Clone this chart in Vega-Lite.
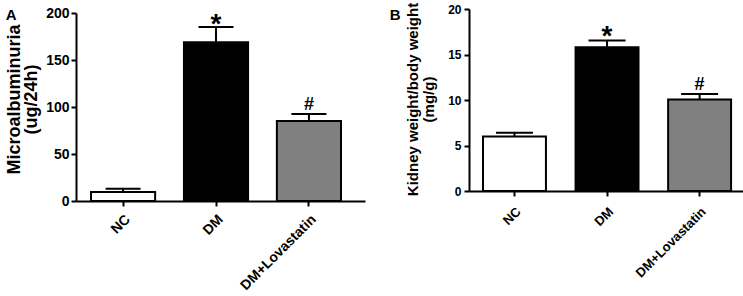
{
  "$schema": "https://vega.github.io/schema/vega-lite/v6.json",
  "padding": {"left": 5, "top": 2, "right": 0, "bottom": 0},
  "autosize": {"type": "pad"},
  "background": "white",
  "spacing": 24,
  "config": {
    "font": "Liberation Sans",
    "view": {"stroke": null},
    "axis": {
      "domainColor": "black",
      "domainWidth": 2,
      "tickColor": "black",
      "tickWidth": 2,
      "tickSize": 5,
      "labelFont": "Liberation Sans",
      "labelFontWeight": "bold",
      "labelFontSize": 13,
      "labelColor": "black",
      "titleFont": "Liberation Sans",
      "titleFontWeight": "bold",
      "titleColor": "black",
      "grid": false
    },
    "title": {"font": "Liberation Sans", "fontWeight": "bold", "color": "black"}
  },
  "datasets": {
    "a": [
      {"group": "NC", "value": 9.5, "err": 13, "label": ""},
      {"group": "DM", "value": 169, "err": 185, "label": "*"},
      {"group": "DM+Lovastatin", "value": 85, "err": 92.5, "label": "#"}
    ],
    "b": [
      {"group": "NC", "value": 6.0, "err": 6.4, "label": ""},
      {"group": "DM", "value": 15.8, "err": 16.55, "label": "*"},
      {"group": "DM+Lovastatin", "value": 10.05, "err": 10.65, "label": "#"}
    ]
  },
  "hconcat": [
    {
      "width": 289,
      "height": 188,
      "data": {"name": "a"},
      "title": {"text": "A", "anchor": "start", "frame": "bounds", "fontSize": 15, "offset": -17},
      "encoding": {
        "x": {
          "field": "group", "type": "nominal", "sort": ["NC", "DM", "DM+Lovastatin"],
          "scale": {"paddingInner": 0.31, "paddingOuter": 0.21, "align": 0.385},
          "axis": {"title": null, "labelAngle": -45, "labelPadding": 6, "labelFontSize": 14}
        }
      },
      "layer": [
        {
          "mark": {"type": "bar", "stroke": "black", "strokeWidth": 2},
          "encoding": {
            "y": {
              "field": "value", "type": "quantitative",
              "scale": {"domain": [0, 200], "nice": false},
              "axis": {"values": [0, 50, 100, 150, 200], "title": ["Microalbuminuria", "(ug/24h)"], "titleFontSize": 18, "titleLineHeight": 17, "titlePadding": 5, "titleY": 86, "labelPadding": 2, "labelFontSize": 14}
            },
            "fill": {"field": "group", "type": "nominal", "scale": {"domain": ["NC", "DM", "DM+Lovastatin"], "range": ["white", "black", "#808080"]}, "legend": null}
          }
        },
        {
          "mark": {"type": "rule", "strokeWidth": 2, "color": "black"},
          "encoding": {"y": {"field": "value", "type": "quantitative"}, "y2": {"field": "err"}}
        },
        {
          "mark": {"type": "tick", "size": 35, "thickness": 2, "color": "black", "opacity": 1},
          "encoding": {"y": {"field": "err", "type": "quantitative"}}
        },
        {
          "transform": [{"filter": "datum.label === '*'"}],
          "mark": {"type": "text", "baseline": "alphabetic", "dy": 6, "fontSize": 28, "fontWeight": "bold", "color": "black"},
          "encoding": {"y": {"field": "err", "type": "quantitative"}, "text": {"field": "label"}}
        },
        {
          "transform": [{"filter": "datum.label === '#'"}],
          "mark": {"type": "text", "baseline": "alphabetic", "dy": -4, "fontSize": 18, "fontWeight": "bold", "color": "black"},
          "encoding": {"y": {"field": "err", "type": "quantitative"}, "text": {"field": "label"}}
        }
      ]
    },
    {
      "width": 274,
      "height": 178,
      "data": {"name": "b"},
      "title": {"text": "B", "anchor": "start", "frame": "bounds", "fontSize": 15, "offset": -21, "dx": -16},
      "encoding": {
        "x": {
          "field": "group", "type": "nominal", "sort": ["NC", "DM", "DM+Lovastatin"],
          "scale": {"paddingInner": 0.32, "paddingOuter": 0.14, "align": 0.54},
          "axis": {"title": null, "labelAngle": -45, "labelPadding": 9, "labelFontSize": 13}
        }
      },
      "layer": [
        {
          "mark": {"type": "bar", "stroke": "black", "strokeWidth": 2},
          "encoding": {
            "y": {
              "field": "value", "type": "quantitative",
              "scale": {"domain": [0, 20], "nice": false, "range": [178, -4]},
              "axis": {"values": [0, 5, 10, 15, 20], "title": ["Kidney weight/body weight", "(mg/g)"], "titleFontSize": 15, "titleLineHeight": 16, "titlePadding": 11, "titleY": 86, "labelPadding": 3, "labelFontSize": 12}
            },
            "fill": {"field": "group", "type": "nominal", "scale": {"domain": ["NC", "DM", "DM+Lovastatin"], "range": ["white", "black", "#808080"]}, "legend": null}
          }
        },
        {
          "mark": {"type": "rule", "strokeWidth": 2, "color": "black"},
          "encoding": {"y": {"field": "value", "type": "quantitative"}, "y2": {"field": "err"}}
        },
        {
          "mark": {"type": "tick", "size": 37, "thickness": 2, "color": "black", "opacity": 1},
          "encoding": {"y": {"field": "err", "type": "quantitative"}}
        },
        {
          "transform": [{"filter": "datum.label === '*'"}],
          "mark": {"type": "text", "baseline": "alphabetic", "dy": 5, "fontSize": 28, "fontWeight": "bold", "color": "black"},
          "encoding": {"y": {"field": "err", "type": "quantitative"}, "text": {"field": "label"}}
        },
        {
          "transform": [{"filter": "datum.label === '#'"}],
          "mark": {"type": "text", "baseline": "alphabetic", "dy": -4, "fontSize": 18, "fontWeight": "bold", "color": "black"},
          "encoding": {"y": {"field": "err", "type": "quantitative"}, "text": {"field": "label"}}
        }
      ]
    }
  ],
  "resolve": {"scale": {"fill": "independent"}}
}
